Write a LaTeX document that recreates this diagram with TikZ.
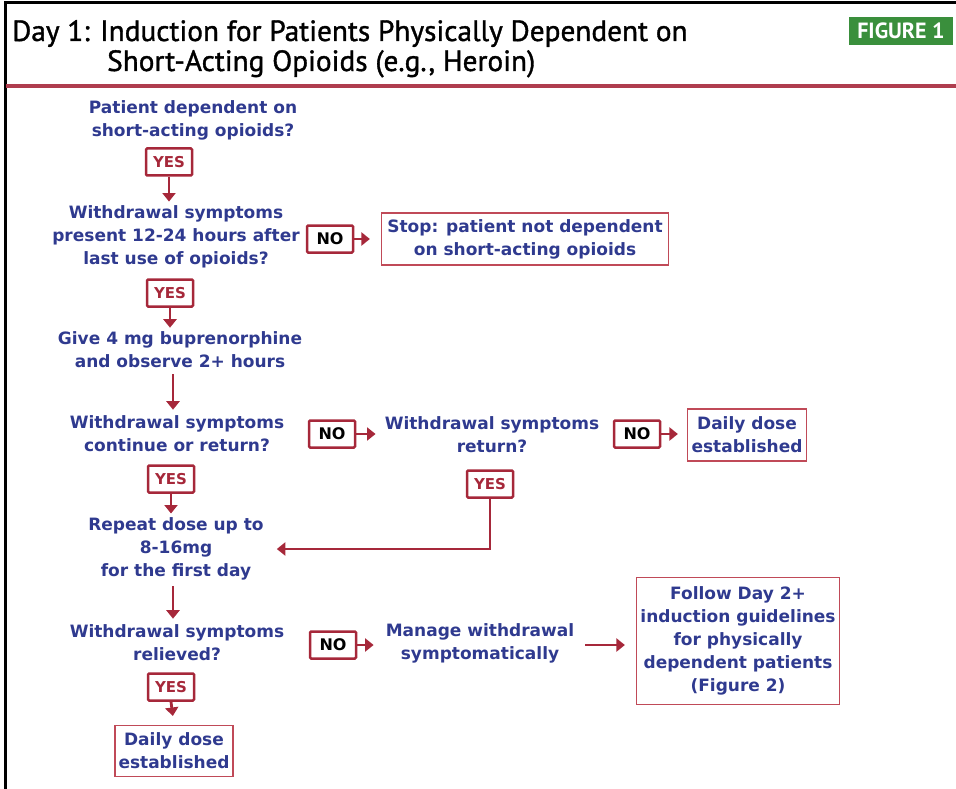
\documentclass[tikz,border=0pt]{standalone}
\usepackage{fontspec}
\setmainfont{DejaVu Sans}
\newfontfamily\titlefont[FakeBold=1.2]{PT Sans}
\newfontfamily\figfont{PT Sans}
\usetikzlibrary{arrows.meta,calc}
\definecolor{dred}{HTML}{A6283A}
\definecolor{lred}{HTML}{C04A58}
\definecolor{tblue}{HTML}{2F3A8F}
\definecolor{fgreen}{HTML}{3A8F3C}
\tikzset{
  q/.style={align=center, inner sep=0pt, text=tblue, font=\fontsize{17}{23}\selectfont\bfseries},
  yesbox/.style={draw=dred, line width=2.5pt, rounded corners=1.2pt, minimum width=46pt, minimum height=27pt, inner sep=0pt, text=dred, font=\fontsize{15}{17}\selectfont\bfseries},
  nobox/.style={yesbox, text=black, font=\fontsize{16}{18}\selectfont\bfseries},
  outbox/.style={draw=lred, line width=1.2pt, align=center, inner sep=0pt, text=tblue, font=\fontsize{17}{23}\selectfont\bfseries},
  arr/.style={draw=dred, line width=2.8pt, -{Triangle[length=8.5pt,width=13pt]}},
  ttl/.style={anchor=base west, inner sep=0pt, font=\titlefont\fontsize{29.3}{31}\selectfont},
}
\begin{document}
\begin{tikzpicture}[x=1pt,y=-1pt]
\useasboundingbox (0,0) rectangle (956,789);
% frame
\draw[line width=3pt] (5,789) -- (5,3) -- (956,3);
\draw[line width=4pt, draw=dred!90] (6,86) -- (956,86);
% title
\node[ttl] (t1) at (12,41) {Day 1: Induction for Patients Physically Dependent on};
\node[ttl] (t2) at (107,71) {Short-Acting Opioids (e.g., Heroin)};
\node[fill=fgreen, text=white, minimum width=104pt, minimum height=28pt, inner sep=0pt, font=\figfont\fontsize{22}{24}\selectfont\bfseries] (fig) at (901,31) {FIGURE 1};
% nodes
\node[q] (q1) at (193,120) {Patient dependent on\\short-acting opioids?};
\node[yesbox] (yes1) at (169,162) {YES};
\node[q] (q2) at (176,237) {Withdrawal symptoms\\present 12-24 hours after\\last use of opioids?};
\node[nobox] (no1) at (330,239) {NO};
\node[outbox, minimum width=287pt, minimum height=52pt] (stop) at (525,239) {Stop: patient not dependent\\on short-acting opioids};
\node[yesbox] (yes2) at (170,293) {YES};
\node[q] (give) at (180,350) {Give 4 mg buprenorphine\\and observe 2+ hours};
\node[q] (q3) at (177,434) {Withdrawal symptoms\\continue or return?};
\node[nobox] (no2) at (332,434) {NO};
\node[q] (q4) at (492,435) {Withdrawal symptoms\\return?};
\node[nobox] (no3) at (637,434) {NO};
\node[outbox, minimum width=119pt, minimum height=52pt] (dd1) at (747,435) {Daily dose\\established};
\node[yesbox] (yes3) at (171,479) {YES};
\node[yesbox] (yes4) at (490,484) {YES};
\node[q] (rep) at (176,549) {Repeat dose up to\\8-16mg\\for the first day};
\node[q] (q5) at (177,643) {Withdrawal symptoms\\relieved?};
\node[nobox] (no4) at (333,645) {NO};
\node[q] (man) at (480,643) {Manage withdrawal\\symptomatically};
\node[outbox, minimum width=203pt, minimum height=127pt] (fol) at (738,641) {Follow Day 2+\\induction guidelines\\for physically\\dependent patients\\(Figure 2)};
\node[yesbox] (yes5) at (171,687) {YES};
\node[outbox, minimum width=118pt, minimum height=51pt] (dd2) at (174,751) {Daily dose\\established};
% connectors
\draw[arr, shorten >=4pt] (yes1.south) -- (yes1.south |- q2.north);
\draw[arr, shorten >=11pt] (no1.east) -- (stop.west);
\draw[arr, shorten >=4pt] (yes2.south) -- (yes2.south |- give.north);
\draw[arr, shorten <=6pt, shorten >=6pt] (give.south -| 173,0) -- (q3.north -| 173,0);
\draw[arr, shorten >=9pt] (no2.east) -- (q4.west |- no2.east);
\draw[arr, shorten >=9pt] (no3.east) -- (dd1.west |- no3.east);
\draw[arr, shorten >=4pt] (yes3.south) -- (yes3.south |- rep.north);
\draw[arr, shorten >=13pt] (yes4.south) |- (rep.east);
\draw[arr, shorten <=6pt, shorten >=6pt] (rep.south -| 173,0) -- (q5.north -| 173,0);
\draw[arr, shorten >=12pt] (no4.east) -- (man.west |- no4.east);
\draw[arr, shorten <=11pt, shorten >=11pt] (man.east |- no4.east) -- (fol.west |- no4.east);
\draw[arr, shorten >=9pt] (yes5.south) -- (dd2.north);
\end{tikzpicture}
\end{document}
